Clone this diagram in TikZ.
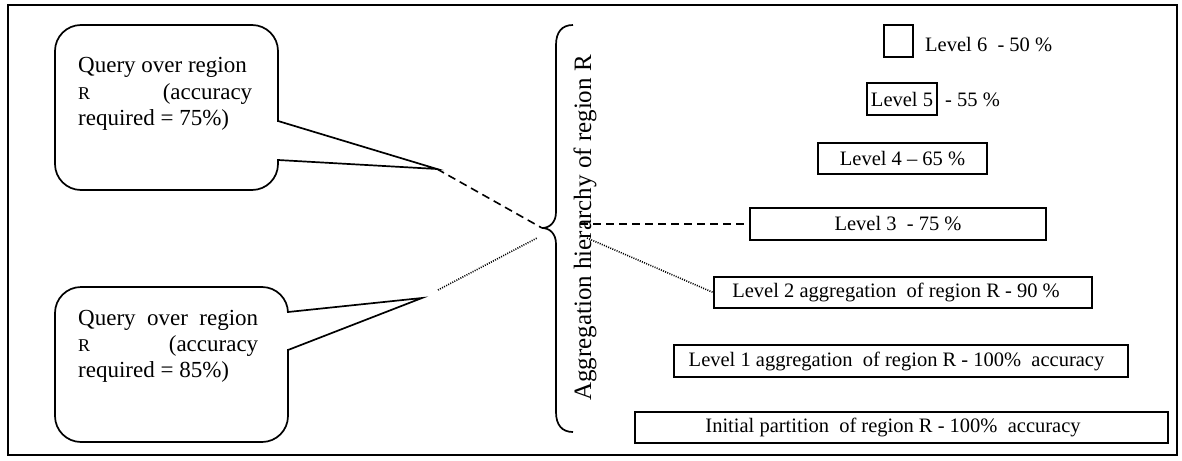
\documentclass[tikz,border=0pt]{standalone}
\usepackage{fontspec}
\setmainfont{Liberation Serif}
\begin{document}
\begin{tikzpicture}[x=1pt,y=-1pt,
  box/.style={draw, line width=1.6pt, inner sep=0pt, font=\fontsize{20.5}{24}\selectfont},
  lbl/.style={inner sep=0pt, font=\fontsize{20.5}{24}\selectfont},
  balloon/.style={draw, line width=1.7pt, rounded corners=26pt, inner sep=0pt},
  qtext/.style={inner sep=0pt, anchor=base west, font=\fontsize{23}{26}\selectfont},
  dashedlink/.style={line width=1.6pt, dash pattern=on 8pt off 5pt},
  dottedlink/.style={line width=1.6pt, dash pattern=on 1pt off 1.3pt}]
\useasboundingbox (0,0) rectangle (1182,460);
\draw[line width=1.7pt] (8,5) rectangle (1177,455);

% callout 1
\node[balloon, minimum width=223pt, minimum height=165pt] (q1) at (166.5,107.5) {};
\coordinate (t1) at (437,169);
\fill[white] (276,122) rectangle (281,159);
\draw[line width=1.7pt, line join=miter] (278,121) -- (t1) -- (278,160);
\node[qtext] (q1t) at (78,73) {\parbox[t]{174pt}{Query over region\\ {\fontsize{18}{26}\selectfont R}\hfill(accuracy\\ required = 75\%)}};

% callout 2
\node[balloon, minimum width=233pt, minimum height=155pt] (q2) at (171.5,364.5) {};
\coordinate (t2) at (422,298);
\fill[white] (286,313) rectangle (291,349);
\draw[line width=1.7pt, line join=miter] (288,312) -- (t2) -- (288,350);
\node[qtext] (q2t) at (78,325) {\parbox[t]{180pt}{Query\hfill over\hfill region\\ {\fontsize{18}{26}\selectfont R}\hfill(accuracy\\ required = 85\%)}};

% brace
\coordinate (btip) at (542,228);
\draw[line width=1.7pt] (573,25) .. controls (562,25) and (556,32) .. (556,45) -- (556,212) .. controls (556,222) and (550,228) .. (btip) .. controls (550,228) and (556,234) .. (556,244) -- (556,412) .. controls (556,425) and (562,432) .. (573,432);
\node[rotate=90, anchor=base, inner sep=0pt, font=\fontsize{25}{30}\selectfont] (agg) at (591,228) {Aggregation hierarchy of region R};

% levels
\node[box, minimum width=29pt, minimum height=32pt] (l6) at (898.5,41) {};
\node[lbl, anchor=base west] (l6t) at (925,52) {Level 6~ - 50 \%};
\node[box, inner xsep=4pt, minimum height=32pt] (l5) at (902,99) {Level 5};
\node[lbl, anchor=base west] (l5t) at (945,106) {- 55 \%};
\node[box, minimum width=169pt, minimum height=31pt] (l4) at (902.5,158.5) {Level 4 -- 65 \%};
\node[box, minimum width=296pt, minimum height=32pt] (l3) at (898,224) {Level 3~ - 75 \%};
\node[box, minimum width=378pt, minimum height=31pt] (l2) at (903,292.5) {Level 2 aggregation~ of region R - 90 \%\hspace*{14pt}};
\node[box, minimum width=454pt, minimum height=32pt] (l1) at (901,361) {Level 1 aggregation~ of region R - 100\%~ accuracy\hspace*{9pt}};
\node[box, minimum width=533pt, minimum height=31pt] (l0) at (901.5,427.5) {Initial partition~ of region R - 100\%~ accuracy\hspace*{17pt}};

% connectors
\coordinate (h3) at (580,224);
\coordinate (d1) at (438,290);
\coordinate (d2) at (537,238);
\coordinate (d3) at (587,238);
\draw[dashedlink] (t1) -- (btip);
\draw[dashedlink] (h3) -- (l3.west);
\draw[dottedlink] (d1) -- (d2);
\draw[dottedlink] (d3) -- (l2.west);
\end{tikzpicture}
\end{document}
